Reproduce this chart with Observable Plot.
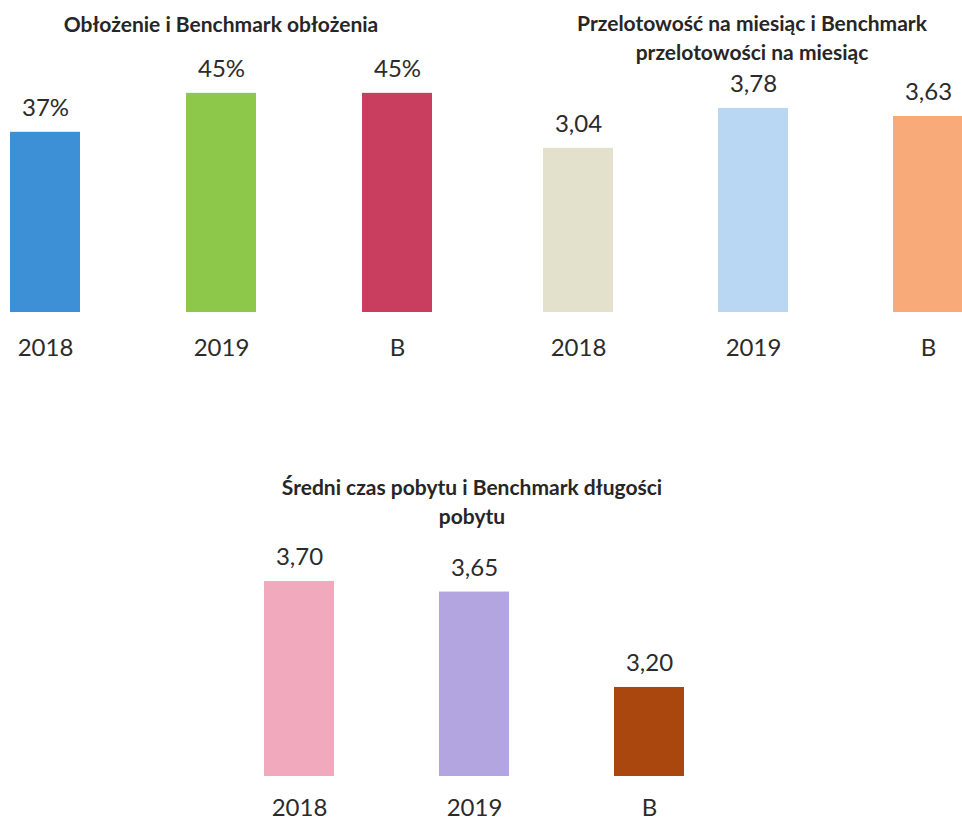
<!DOCTYPE html>
<html>
<head>
<meta charset="utf-8">
<script src="https://cdn.jsdelivr.net/npm/d3@7"></script>
<script src="https://cdn.jsdelivr.net/npm/@observablehq/plot@0.6"></script>
<style>
  body { margin: 0; background: #fff; }
  #page { position: relative; width: 962px; height: 820px; overflow: hidden; font-family: Lato, "Open Sans", sans-serif; color: #2b2b2b; }
  .title { position: absolute; width: 460px; text-align: center; font-weight: 700; font-size: 21px; line-height: 29px; white-space: nowrap; color: #262626; }
  .chart { position: absolute; }
</style>
</head>
<body>
<div id="page">
  <div class="title" id="t1" style="left:-9px; top:9px;"></div>
  <div class="title" id="t2" style="left:522px; top:8px;"></div>
  <div class="title" id="t3" style="left:242px; top:472px;"></div>
  <div class="chart" id="c1" style="left:0px; top:40px;"></div>
  <div class="chart" id="c2" style="left:480px; top:64px;"></div>
  <div class="chart" id="c3" style="left:0px; top:530px;"></div>
</div>
<script>
// ---- data ----
const categories = ["2018", "2019", "B"];
const occupancyValues = [37, 45, 45];
const throughputValues = [3.04, 3.78, 3.63];
const stayValues = [3.70, 3.65, 3.20];
const occupancyColors = ["#3d8fd6", "#8dc84a", "#c93d5e"];
const throughputColors = ["#e3e0cc", "#b9d6f2", "#f8aa78"];
const stayColors = ["#f1a9be", "#b3a6e0", "#a9470f"];
const titleOccupancy = ["Obłożenie i Benchmark obłożenia"];
const titleThroughput = ["Przelotowość na miesiąc i Benchmark", "przelotowości na miesiąc"];
const titleStay = ["Średni czas pobytu i Benchmark długości", "pobytu"];

// ---- helpers ----
const pct = v => `${v}%`;
const dec = v => v.toFixed(2).replace(".", ",");
function rows(values, colors, fmt) {
  return categories.map((c, i) => ({cat: c, value: values[i], color: colors[i], label: fmt(values[i])}));
}
function setTitle(id, lines) {
  const el = document.getElementById(id);
  lines.forEach((l, i) => {
    if (i) el.appendChild(document.createElement("br"));
    el.appendChild(document.createTextNode(l));
  });
}
function barChart({data, width, height, marginBottom, xRange, yDomain, yRange, tickPadding}) {
  return Plot.plot({
    width, height,
    marginTop: 0, marginBottom, marginLeft: 0, marginRight: 0,
    style: {fontFamily: "Lato, 'Open Sans', sans-serif", fontSize: "24px", color: "#2b2b2b", background: "transparent", overflow: "visible"},
    x: {type: "band", domain: categories, range: xRange, paddingInner: 0.6, paddingOuter: 0},
    y: {domain: yDomain, range: yRange, clamp: true, axis: null},
    color: {type: "identity"},
    marks: [
      Plot.barY(data, {x: "cat", y: "value", fill: "color"}),
      Plot.text(data, {x: "cat", y: "value", text: "label", dy: -24, fontSize: 24, fill: "#2b2b2b"}),
      Plot.axisX({tickSize: 0, tickPadding, fontSize: 24, label: null})
    ]
  });
}

setTitle("t1", titleOccupancy);
setTitle("t2", titleThroughput);
setTitle("t3", titleStay);

document.getElementById("c1").appendChild(barChart({
  data: rows(occupancyValues, occupancyColors, pct),
  width: 480, height: 340, marginBottom: 68,
  xRange: [10, 432.4], yDomain: [0, 50], yRange: [272, 272 - 50 * 4.87], tickPadding: 26
}));

document.getElementById("c2").appendChild(barChart({
  data: rows(throughputValues, throughputColors, dec),
  width: 482, height: 316, marginBottom: 68,
  xRange: [62, 483.2], yDomain: [0, 4.5], yRange: [248, 248 - 4.5 * 54], tickPadding: 26
}));

document.getElementById("c3").appendChild(barChart({
  data: rows(stayValues, stayColors, dec),
  width: 962, height: 290, marginBottom: 44,
  xRange: [263, 684.7], yDomain: [2.78, 3.9], yRange: [246, 246 - 1.12 * 212], tickPadding: 22
}));
</script>
</body>
</html>
